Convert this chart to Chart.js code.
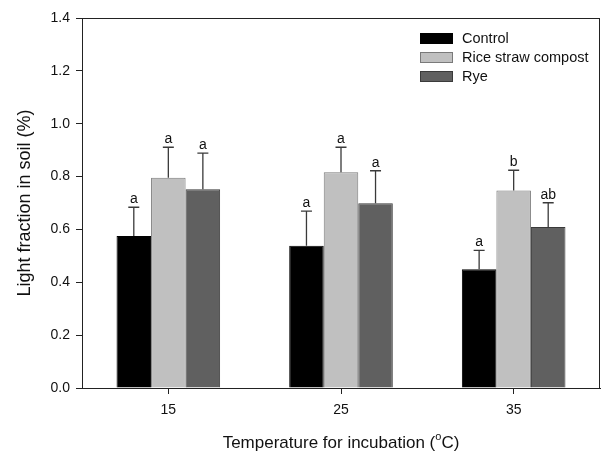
<!DOCTYPE html>
<html>
<head>
<meta charset="utf-8">
<script src="https://cdn.jsdelivr.net/npm/chart.js@4"></script>
<style>
    html, body { margin: 0; padding: 0; background: #fff; }
    #wrap { width: 616px; height: 453px; }
</style>
</head>
<body>
<div id="wrap"><canvas id="lightFractionChart" width="616" height="453"></canvas></div>
<script>
const temps = ["15", "25", "35"];
const controlMeans = [0.575, 0.538, 0.449];
const controlErr = [0.109, 0.131, 0.072];
const controlLetters = ["a", "a", "a"];
const riceMeans = [0.796, 0.816, 0.747];
const riceErr = [0.115, 0.095, 0.077];
const riceLetters = ["a", "a", "b"];
const ryeMeans = [0.752, 0.699, 0.609];
const ryeErr = [0.137, 0.123, 0.092];
const ryeLetters = ["a", "a", "ab"];
const yTicks = [0, 0.2, 0.4, 0.6, 0.8, 1.0, 1.2, 1.4];

const fontFamily = "'Liberation Sans', Arial, sans-serif";

// error bars (upward only) + significance letters
const errorBarPlugin = {
    id: "errorBars",
    afterDatasetsDraw(chart) {
        const { ctx } = chart;
        const yScale = chart.scales.y;
        chart.data.datasets.forEach(function (ds, i) {
            const meta = chart.getDatasetMeta(i);
            meta.data.forEach(function (bar, j) {
                const top = yScale.getPixelForValue(ds.data[j] + ds.errors[j]);
                ctx.save();
                ctx.strokeStyle = "#3a3a3a";
                ctx.lineWidth = 1.3;
                ctx.beginPath();
                ctx.moveTo(bar.x, bar.y);
                ctx.lineTo(bar.x, top);
                ctx.moveTo(bar.x - 5.5, top);
                ctx.lineTo(bar.x + 5.5, top);
                ctx.stroke();
                ctx.fillStyle = "#111";
                ctx.font = "14px " + fontFamily;
                ctx.textAlign = "center";
                ctx.textBaseline = "alphabetic";
                ctx.fillText(ds.letters[j], bar.x, top - 4);
                ctx.restore();
            });
        });
    }
};

// frame, legend and x title drawn by hand
const decorPlugin = {
    id: "decor",
    afterDraw(chart) {
        const { ctx, chartArea } = chart;
        ctx.save();
        ctx.strokeStyle = "#222";
        ctx.lineWidth = 1;
        ctx.strokeRect(chartArea.left + 0.5, chartArea.top + 0.5,
            chartArea.right - chartArea.left - 1, chartArea.bottom - chartArea.top);

        // legend
        let y = 33;
        chart.data.datasets.forEach(function (ds) {
            ctx.fillStyle = ds.backgroundColor;
            ctx.fillRect(420, y, 33, 11);
            ctx.strokeStyle = ds.borderColor;
            ctx.strokeRect(420.5, y + 0.5, 32, 10);
            ctx.fillStyle = "#111";
            ctx.font = "14.5px " + fontFamily;
            ctx.textAlign = "left";
            ctx.textBaseline = "middle";
            ctx.fillText(ds.label, 462, y + 6);
            y += 19;
        });

        // x title with superscript o
        const main = "Temperature for incubation (";
        ctx.font = "17px " + fontFamily;
        const w1 = ctx.measureText(main).width;
        ctx.font = "11px " + fontFamily;
        const w2 = ctx.measureText("o").width;
        ctx.font = "17px " + fontFamily;
        const w3 = ctx.measureText("C)").width;
        let x = (chartArea.left + chartArea.right) / 2 - (w1 + w2 + w3) / 2;
        ctx.fillStyle = "#111";
        ctx.textAlign = "left";
        ctx.textBaseline = "alphabetic";
        ctx.fillText(main, x, 448);
        ctx.font = "11px " + fontFamily;
        ctx.fillText("o", x + w1, 440);
        ctx.font = "17px " + fontFamily;
        ctx.fillText("C)", x + w1 + w2, 448);
        ctx.restore();
    }
};

const canvas = document.getElementById("lightFractionChart");

const barChart = new Chart(canvas, {
    type: "bar",
    data: {
        labels: temps,
        datasets: [{
            label: "Control",
            data: controlMeans,
            errors: controlErr,
            letters: controlLetters,
            backgroundColor: "#000000",
            borderColor: "#000000"
        }, {
            label: "Rice straw compost",
            data: riceMeans,
            errors: riceErr,
            letters: riceLetters,
            backgroundColor: "#c0c0c0",
            borderColor: "#7a7a7a"
        }, {
            label: "Rye",
            data: ryeMeans,
            errors: ryeErr,
            letters: ryeLetters,
            backgroundColor: "#606060",
            borderColor: "#3a3a3a"
        }]
    },
    options: {
        responsive: false,
        animation: false,
        devicePixelRatio: 1,
        layout: {
            padding: { left: 0, right: 16, top: 18, bottom: 0 }
        },
        datasets: {
            bar: {
                borderWidth: 1,
                barPercentage: 1.0,
                categoryPercentage: 0.6
            }
        },
        plugins: {
            legend: { display: false },
            tooltip: { enabled: false }
        },
        scales: {
            x: {
                grid: {
                    display: true,
                    offset: false,
                    drawOnChartArea: false,
                    tickLength: 6,
                    tickColor: "#222"
                },
                border: { color: "#222" },
                ticks: {
                    color: "#111",
                    padding: 8,
                    font: { family: fontFamily, size: 14 }
                },
                afterFit: function (scale) {
                    scale.height = 65;
                }
            },
            y: {
                min: 0,
                max: 1.4,
                afterBuildTicks: function (scale) {
                    scale.ticks = yTicks.map(function (v) { return { value: v }; });
                },
                grid: {
                    display: true,
                    drawOnChartArea: false,
                    tickLength: 6,
                    tickColor: "#222"
                },
                border: { color: "#222" },
                ticks: {
                    color: "#111",
                    padding: 6,
                    font: { family: fontFamily, size: 14 },
                    callback: function (value) {
                        return Number(value).toFixed(1);
                    }
                },
                title: {
                    display: true,
                    text: "Light fraction in soil (%)",
                    color: "#111",
                    font: { family: fontFamily, size: 18 },
                    padding: { top: 14, bottom: 0 }
                },
                afterFit: function (scale) {
                    scale.width = 82;
                }
            }
        }
    },
    plugins: [errorBarPlugin, decorPlugin]
});
</script>
</body>
</html>
